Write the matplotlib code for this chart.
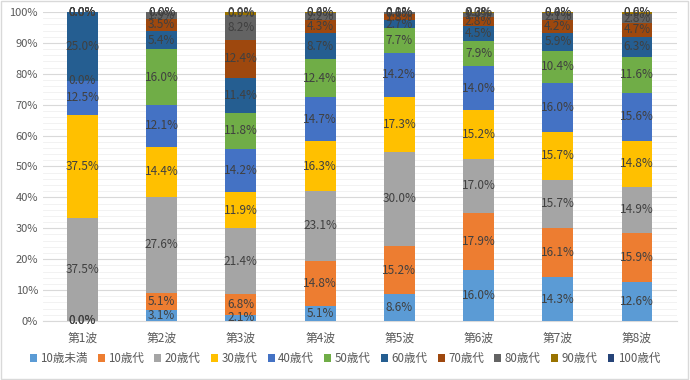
import matplotlib.pyplot as plt
import numpy as np
from matplotlib.patches import Patch, Rectangle

plt.rcParams['font.family'] = ['Noto Sans CJK JP', 'DejaVu Sans']

waves = ["第1波", "第2波", "第3波", "第4波", "第5波", "第6波", "第7波", "第8波"]
ages = ["10歳未満", "10歳代", "20歳代", "30歳代", "40歳代", "50歳代",
        "60歳代", "70歳代", "80歳代", "90歳代", "100歳代"]
colors = ["#5B9BD5", "#ED7D31", "#A5A5A5", "#FFC000", "#4472C4", "#70AD47",
          "#255E91", "#9E480E", "#636363", "#997300", "#264478"]

# one row per age group, one column per wave (percent labels as shown)
under10 = [0.0, 3.1, 2.1, 5.1, 8.6, 16.0, 14.3, 12.6]
age10s = [0.0, 5.1, 6.8, 14.8, 15.2, 17.9, 16.1, 15.9]
age20s = [37.5, 27.6, 21.4, 23.1, 30.0, 17.0, 15.7, 14.9]
age30s = [37.5, 14.4, 11.9, 16.3, 17.3, 15.2, 15.7, 14.8]
age40s = [12.5, 12.1, 14.2, 14.7, 14.2, 14.0, 16.0, 15.6]
age50s = [0.0, 16.0, 11.8, 12.4, 7.7, 7.9, 10.4, 11.6]
age60s = [25.0, 5.4, 11.4, 8.7, 2.7, 4.5, 5.9, 6.3]
age70s = [0.0, 3.5, 12.4, 4.3, 1.8, 2.8, 4.2, 4.7]
age80s = [0.0, 1.9, 8.2, 2.2, 0.6, 1.4, 2.1, 2.8]
age90s = [0.0, 0.0, 0.9, 0.4, 0.1, 0.3, 0.4, 0.6]
age100s = [0.0, 0.0, 0.0, 0.0, 0.0, 0.0, 0.0, 0.0]

values = np.array([under10, age10s, age20s, age30s, age40s, age50s,
                   age60s, age70s, age80s, age90s, age100s])
shares = values / values.sum(axis=0)

fig = plt.figure(figsize=(6.9, 3.8), dpi=100)
ax = fig.add_axes([0.0621, 0.1553, 0.9185, 0.8131])

x = np.arange(len(waves))
bottom = np.zeros(len(waves))
for i, age in enumerate(ages):
    ax.bar(x, shares[i], 0.39, bottom=bottom, color=colors[i], label=age,
           zorder=3)
    for j in range(len(waves)):
        ax.text(x[j], bottom[j] + shares[i][j] / 2, f"{values[i][j]:.1f}%",
                ha="center", va="center", fontsize=8.5, color="#404040",
                zorder=4)
    bottom += shares[i]

ax.set_xlim(-0.5, len(waves) - 0.5)
ax.set_ylim(0, 1)
ax.set_yticks(np.arange(0, 1.01, 0.1))
ax.set_yticklabels([f"{int(round(t * 100))}%" for t in np.arange(0, 1.01, 0.1)])
ax.set_yticks(np.arange(0, 1.001, 0.02), minor=True)
ax.set_xticks(x)
ax.set_xticklabels(waves)
ax.tick_params(axis="both", length=0, labelsize=8, colors="#595959")
ax.tick_params(axis="y", which="minor", length=0)
ax.tick_params(axis="x", pad=8, labelsize=8.5)
ax.grid(axis="y", which="major", color="#D9D9D9", linewidth=0.8, zorder=0)
ax.grid(axis="y", which="minor", color="#F0F0F0", linewidth=0.6, zorder=0)
for s in ["top", "right", "left"]:
    ax.spines[s].set_visible(False)
ax.spines["bottom"].set_color("#D9D9D9")

handles = [Patch(facecolor=c, label=a) for c, a in zip(colors, ages)]
fig.legend(handles=handles, loc="center", bbox_to_anchor=(0.5, 0.056),
           ncol=11, frameon=False, fontsize=8.3, handlelength=0.6,
           handleheight=0.6, handletextpad=0.3, columnspacing=0.9,
           labelcolor="#595959")

fig.patches.append(Rectangle((0.002, 0.003), 0.995, 0.994, transform=fig.transFigure,
                             fill=False, edgecolor="#D9D9D9", linewidth=1))

fig.savefig("out.png", dpi=100)
